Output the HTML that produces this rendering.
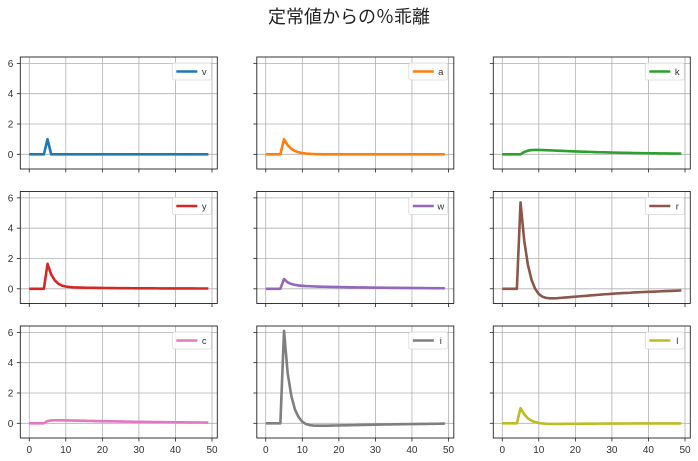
<!DOCTYPE html>
<html><head><meta charset="utf-8">
<style>
html,body{margin:0;padding:0;background:#fff;}
svg{display:block;font-family:"Liberation Sans","Noto Sans CJK JP",sans-serif;}
</style></head>
<body>
<svg id="fig" width="698" height="461" viewBox="0 0 698 461" xmlns="http://www.w3.org/2000/svg">
<text x="349" y="23" text-anchor="middle" font-size="18" fill="#222">定常値からの％乖離</text>
</svg>
<script>
const names = ['v','a','k','y','w','r','c','i','l'];
const colors = ['#1f77b4','#ff7f0e','#2ca02c','#d62728','#9467bd','#8c564b','#e377c2','#7f7f7f','#bcbd22'];
const xTicks = [0,10,20,30,40,50];
const yTicks = [0,2,4,6];
const seriesV = [0,0,0,0,0,1,0,0,0,0,0,0,0,0,0,0,0,0,0,0,0,0,0,0,0,0,0,0,0,0,0,0,0,0,0,0,0,0,0,0,0,0,0,0,0,0,0,0,0,0];
const seriesA = [0,0,0,0,0,1.0,0.6,0.36,0.22,0.13,0.08,0.05,0.03,0.02,0.01,0.01,0,0,0,0,0,0,0,0,0,0,0,0,0,0,0,0,0,0,0,0,0,0,0,0,0,0,0,0,0,0,0,0,0,0];
const seriesK = [0,0,0,0,0,0,0.15,0.24,0.28,0.29,0.29,0.28,0.27,0.26,0.25,0.24,0.23,0.22,0.21,0.2,0.19,0.18,0.17,0.165,0.16,0.15,0.14,0.135,0.13,0.12,0.115,0.11,0.105,0.1,0.095,0.09,0.085,0.08,0.077,0.073,0.07,0.066,0.063,0.06,0.057,0.054,0.051,0.048,0.046,0.044];
const seriesY = [0,0,0,0,0,1.65,0.95,0.55,0.33,0.21,0.15,0.12,0.1,0.09,0.08,0.075,0.07,0.066,0.062,0.058,0.055,0.052,0.049,0.046,0.044,0.042,0.04,0.038,0.036,0.035,0.033,0.032,0.031,0.03,0.029,0.028,0.027,0.026,0.025,0.024,0.024,0.023,0.022,0.022,0.021,0.021,0.02,0.02,0.02,0.02];
const seriesW = [0,0,0,0,0,0.65,0.42,0.32,0.26,0.22,0.2,0.18,0.17,0.16,0.15,0.14,0.135,0.13,0.125,0.12,0.115,0.11,0.105,0.1,0.097,0.094,0.09,0.087,0.084,0.081,0.078,0.075,0.072,0.07,0.067,0.064,0.062,0.06,0.057,0.055,0.053,0.051,0.049,0.047,0.045,0.043,0.041,0.039,0.037,0.035];
const seriesR = [0,0,0,0,0,5.7,3.2,1.6,0.6,0.0,-0.35,-0.52,-0.6,-0.63,-0.63,-0.62,-0.6,-0.58,-0.56,-0.54,-0.52,-0.5,-0.48,-0.46,-0.44,-0.42,-0.4,-0.38,-0.36,-0.35,-0.33,-0.31,-0.3,-0.28,-0.27,-0.26,-0.24,-0.23,-0.22,-0.21,-0.2,-0.19,-0.18,-0.17,-0.16,-0.15,-0.14,-0.13,-0.12,-0.11];
const seriesC = [0,0,0,0,0,0.15,0.19,0.2,0.2,0.2,0.19,0.19,0.18,0.18,0.17,0.17,0.16,0.16,0.15,0.15,0.14,0.14,0.13,0.13,0.12,0.12,0.115,0.11,0.105,0.1,0.1,0.095,0.09,0.09,0.085,0.08,0.08,0.075,0.075,0.07,0.07,0.065,0.065,0.06,0.06,0.058,0.055,0.053,0.051,0.05];
const seriesI = [0,0,0,0,0,6.1,3.3,1.8,0.9,0.4,0.1,-0.05,-0.12,-0.15,-0.16,-0.16,-0.16,-0.155,-0.15,-0.145,-0.14,-0.135,-0.13,-0.125,-0.12,-0.115,-0.11,-0.105,-0.1,-0.095,-0.09,-0.085,-0.08,-0.076,-0.072,-0.068,-0.064,-0.06,-0.057,-0.054,-0.051,-0.048,-0.045,-0.042,-0.04,-0.037,-0.034,-0.03,-0.025,-0.02];
const seriesL = [0,0,0,0,0,1.0,0.6,0.33,0.17,0.08,0.02,-0.01,-0.03,-0.04,-0.04,-0.04,-0.04,-0.035,-0.035,-0.03,-0.03,-0.03,-0.028,-0.026,-0.025,-0.024,-0.022,-0.021,-0.02,-0.019,-0.018,-0.017,-0.016,-0.015,-0.014,-0.013,-0.012,-0.012,-0.011,-0.01,-0.01,-0.009,-0.009,-0.008,-0.008,-0.007,-0.007,-0.006,-0.006,-0.005];
const allSeries = [seriesV,seriesA,seriesK,seriesY,seriesW,seriesR,seriesC,seriesI,seriesL];

const NS = 'http://www.w3.org/2000/svg';
const svg = document.getElementById('fig');
const colX = [20.3, 256.8, 493.3];
const rowY = [57, 191.5, 326];
const W = 197, H = 112;
const xMin = -2.45, xMax = 51.45, yMin = -0.97, yMax = 6.42;

function mk(tag, attrs, parent){
  const e = document.createElementNS(NS, tag);
  for (const k in attrs) e.setAttribute(k, attrs[k]);
  parent.appendChild(e);
  return e;
}

for (let p = 0; p < 9; p++){
  const r = Math.floor(p/3), c = p%3;
  const x0 = colX[c], y0 = rowY[r];
  const sx = v => x0 + (v - xMin)/(xMax - xMin)*W;
  const sy = v => y0 + H - (v - yMin)/(yMax - yMin)*H;
  const g = mk('g', {}, svg);
  
  
  // grid
  xTicks.forEach(t => {
    const ln = mk('line', {x1:sx(t), x2:sx(t), y1:y0, y2:y0+H, stroke:'#b0b0b0', 'stroke-width':0.8}, g);
    
    
    const tk = mk('line', {x1:sx(t), x2:sx(t), y1:y0+H, y2:y0+H+3.5, stroke:'#222', 'stroke-width':0.8}, g);
    
    
    if (r === 2){
      const tx = mk('text', {x:sx(t), y:y0+H+15, 'text-anchor':'middle', 'font-size':10, fill:'#333'}, g);
      tx.textContent = t;
      
      
    }
  });
  yTicks.forEach(t => {
    const ln = mk('line', {x1:x0, x2:x0+W, y1:sy(t), y2:sy(t), stroke:'#b0b0b0', 'stroke-width':0.8}, g);
    
    
    const tk = mk('line', {x1:x0-3.5, x2:x0, y1:sy(t), y2:sy(t), stroke:'#222', 'stroke-width':0.8}, g);
    
    
    if (c === 0){
      const tx = mk('text', {x:x0-7, y:sy(t)+3.5, 'text-anchor':'end', 'font-size':10, fill:'#333'}, g);
      tx.textContent = t;
      
      
    }
  });
  // series
  const d = allSeries[p].map((v,i) => (i ? 'L' : 'M') + sx(i).toFixed(2) + ',' + sy(v).toFixed(2)).join(' ');
  const path = mk('path', {d:d, fill:'none', stroke:colors[p], 'stroke-width':2.6, 'stroke-linejoin':'round'}, g);
  
  
  // frame
  const fr = mk('rect', {x:x0, y:y0, width:W, height:H, fill:'none', stroke:'#222', 'stroke-width':0.9}, g);
  
  
  // legend
  const lg = mk('g', {}, g);
  
  
  const lx = x0 + W - 45, ly = y0 + 6;
  mk('rect', {x:lx, y:ly, width:39, height:17, rx:2, fill:'#fff', 'fill-opacity':0.85, stroke:'#d8d8d8', 'stroke-width':0.8}, lg);
  mk('line', {x1:lx+4, x2:lx+25, y1:ly+8.5, y2:ly+8.5, stroke:colors[p], 'stroke-width':2.6}, lg);
  const lt = mk('text', {x:lx+32, y:ly+12, 'text-anchor':'middle', 'font-size':9.5, fill:'#333'}, lg);
  lt.textContent = names[p];
  
  
}
</script>
</body></html>
